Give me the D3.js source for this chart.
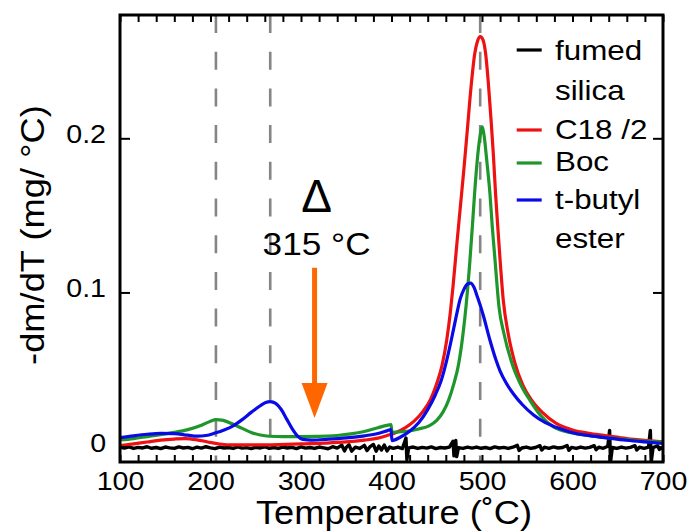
<!DOCTYPE html>
<html>
<head>
<meta charset="utf-8">
<script src="https://cdn.jsdelivr.net/npm/d3@7/dist/d3.min.js"></script>
<style>
  html, body { margin: 0; padding: 0; background: #fff; }
  svg { display: block; font-family: "Liberation Sans", Arial, Helvetica, sans-serif; }
</style>
</head>
<body>
<svg id="chart" width="691" height="531"></svg>
<script>
// Derivative thermogravimetry (-dm/dT) of functionalised silica, [temperature °C, mg/°C]
const silicaData = [
  [100,-0.0004],[105,-0.0010],[110,-0.0002],[115,-0.0012],[120,-0.0005],[125,-0.0009],[130,-0.0001],
  [135,-0.0011],[140,-0.0006],[145,-0.0013],[150,-0.0003],[155,-0.0008],[160,-0.0012],[165,-0.0002],
  [170,-0.0009],[175,-0.0005],[180,-0.0014],[185,-0.0004],[190,-0.0010],[195,-0.0001],[200,-0.0008],
  [205,-0.0013],[210,-0.0003],[215,-0.0009],[220,-0.0006],[225,-0.0012],[230,-0.0002],[235,-0.0010],
  [240,-0.0007],[245,-0.0013],[250,-0.0004],[255,-0.0009],[260,-0.0001],[265,-0.0011],[270,-0.0006],
  [275,-0.0012],[280,-0.0003],[285,-0.0009],[290,-0.0005],[295,-0.0013],[300,-0.0002],[305,-0.0010],
  [310,-0.0006],[315,-0.0012],[320,-0.0003],[325,-0.0008],[330,-0.0014],[335,-0.0001],[340,-0.0010],
  [345,0.0010],[348,-0.0028],[350,-0.0005],[353,0.0012],[356,-0.0030],[360,-0.0004],[365,-0.0012],
  [370,0.0008],[373,-0.0026],[376,-0.0002],[380,0.0014],[383,-0.0030],[386,0.0004],[389,-0.0022],
  [392,0.0010],[395,-0.0028],[398,-0.0003],[402,-0.0011],[407,-0.0004],[412,-0.0013],[416,0.0055],
  [417,-0.0085],[419,-0.0008],[424,-0.0003],[429,-0.0012],[434,-0.0005],[439,-0.0010],[444,-0.0002],
  [449,-0.0013],[454,-0.0006],[459,-0.0009],[464,-0.0003],[468,0.0035],[469,-0.0060],[471,0.0040],
  [472,-0.0065],[474,-0.0007],[479,-0.0012],[484,-0.0004],[489,-0.0010],[494,-0.0003],[499,-0.0011],
  [504,-0.0006],[509,-0.0013],[514,-0.0002],[519,-0.0009],[524,-0.0005],[529,-0.0012],[534,-0.0004],
  [539,0.0008],[541,-0.0025],[544,-0.0009],[549,-0.0003],[554,-0.0012],[559,-0.0006],[564,0.0006],
  [566,-0.0022],[569,-0.0004],[574,-0.0011],[579,-0.0002],[584,-0.0009],[589,-0.0006],[594,0.0007],
  [596,-0.0024],[599,-0.0005],[604,-0.0012],[609,-0.0003],[614,-0.0010],[619,-0.0005],[624,0.0006],
  [626,-0.0020],[629,-0.0004],[634,-0.0011],[639,0.0002],[641,0.0105],[642,-0.0100],[644,-0.0006],
  [649,-0.0012],[654,-0.0003],[659,-0.0010],[664,-0.0005],[669,0.0006],[671,-0.0022],[674,-0.0004],
  [679,-0.0011],[684,-0.0003],[686,0.0105],[687,-0.0100],[689,-0.0006],[694,0.0005],[696,-0.0018],
  [700,-0.0006]
];

const c18Data = [
  [100,0.0006],[115,0.0018],[130,0.0030],[145,0.0042],[160,0.0049],[172,0.0052],[185,0.0044],
  [197,0.0030],[210,0.0017],[225,0.0011],[250,0.0011],[275,0.0013],[300,0.0017],[325,0.0022],
  [350,0.0030],[370,0.0042],[385,0.0055],[395,0.0072],[405,0.0092],[415,0.0122],[425,0.0165],
  [435,0.0230],[443,0.0305],[450,0.0410],[456,0.0530],[461,0.0690],[465,0.0870],[468,0.1040],
  [472,0.1300],[476,0.1550],[480,0.1800],[484,0.2070],[488,0.2340],[492,0.2550],[495,0.2630],
  [498,0.2660],[501,0.2640],[504,0.2550],[507,0.2360],[510,0.2120],[512.5,0.1900],[515,0.1640],
  [517.5,0.1420],[520,0.1210],[523.5,0.0950],[529,0.0730],[536,0.0550],[545,0.0400],[555,0.0300],
  [567,0.0220],[582,0.0150],[600,0.0108],[620,0.0085],[640,0.0068],[660,0.0052],[680,0.0040],
  [700,0.0030]
];

const bocData = [
  [100,0.0043],[115,0.0052],[130,0.0065],[145,0.0078],[160,0.0092],[175,0.0110],[190,0.0138],
  [200,0.0165],[206,0.0175],[214,0.0170],[225,0.0145],[235,0.0118],[245,0.0092],[255,0.0075],
  [265,0.0067],[280,0.0065],[300,0.0065],[320,0.0066],[340,0.0072],[355,0.0082],[370,0.0098],
  [385,0.0122],[395,0.0138],[399.5,0.0142],[400.5,0.0093],[415,0.0098],[430,0.0114],[442,0.0136],
  [450,0.0170],[457,0.0225],[463,0.0300],[469,0.0410],[474,0.0530],[479,0.0730],[482.5,0.0920],
  [486.7,0.1210],[489.3,0.1424],[491.8,0.1640],[494.8,0.1860],[497.5,0.2000],[500.4,0.2075],
  [502.5,0.2010],[505.2,0.1860],[508.8,0.1640],[511.4,0.1424],[514.4,0.1210],[518.8,0.0905],
  [524.3,0.0732],[534.6,0.0515],[543,0.0400],[553,0.0300],[565,0.0200],[579,0.0128],[600,0.0088],
  [625,0.0066],[650,0.0050],[675,0.0038],[700,0.0030]
];

const tButylData = [
  [100,0.0058],[115,0.0070],[130,0.0080],[145,0.0086],[160,0.0084],[175,0.0074],[185,0.0068],
  [195,0.0072],[205,0.0088],[215,0.0108],[225,0.0135],[235,0.0175],[245,0.0222],[255,0.0265],
  [261,0.0286],[266,0.0292],[272,0.0280],[278,0.0242],[284,0.0180],[290,0.0118],[296,0.0070],
  [302,0.0047],[312,0.0042],[330,0.0048],[350,0.0057],[370,0.0070],[385,0.0085],[395,0.0102],
  [399.5,0.0110],[400.5,0.0039],[410,0.0062],[420,0.0100],[430,0.0155],[440,0.0240],[448,0.0330],
  [455,0.0430],[461,0.0560],[466,0.0690],[471,0.0830],[476,0.0960],[480,0.1020],[484,0.1055],
  [487.5,0.1060],[491,0.1035],[495,0.0970],[501,0.0860],[508.8,0.0690],[515,0.0570],[520,0.0490],
  [527,0.0410],[535,0.0340],[545,0.0270],[557,0.0205],[570,0.0155],[582,0.0125],[600,0.0090],
  [619,0.0071],[640,0.0055],[660,0.0041],[680,0.0030],[700,0.0020]
];

const seriesNames = ["fumed\nsilica", "C18 /2", "Boc", "t-butyl\nester"];
const seriesColors = ["#000000", "#ee1111", "#1e962c", "#0a0ae6"];
const seriesData = [silicaData, c18Data, bocData, tButylData];

const xTicksMajor = [100, 200, 300, 400, 500, 600, 700];
const xTicksMinor = d3.range(100, 701, 20);
const yTicks = [0, 0.1, 0.2];
const yTickLabels = ["0", "0.1", "0.2"];

// characteristic decomposition temperatures marked with dashed guides
const guideTemps = [206, 266, 498];
// heating step annotation
const stepTemp = 315;
const stepLabel = "315 \u00B0C";
const arrowFrom = 0.116, arrowTo = 0.0185;

// ---- layout
const svg = d3.select("#chart");
const plotL = 120, plotR = 663, plotT = 15, plotB = 462;
const x = d3.scaleLinear().domain([100, 700]).range([plotL, plotR]);
const y = d3.scaleLinear().domain([-0.01, 0.28]).range([plotB, plotT]);
const font = '"Liberation Sans", Arial, Helvetica, sans-serif';

svg.append("defs").append("clipPath").attr("id", "plotClip")
  .append("rect").attr("x", plotL).attr("y", plotT)
  .attr("width", plotR - plotL).attr("height", plotB - plotT);

// dashed guides
svg.append("g").selectAll("line").data(guideTemps).join("line")
  .attr("x1", d => x(d)).attr("x2", d => x(d))
  .attr("y1", plotT).attr("y2", plotB)
  .attr("stroke", "#858585").attr("stroke-width", 2.6)
  .attr("stroke-dasharray", "18,18.7");

// curves
const plot = svg.append("g").attr("clip-path", "url(#plotClip)");
seriesData.forEach((data, i) => {
  const line = d3.line()
    .x(d => x(d[0])).y(d => y(d[1]))
    .curve(i === 0 ? d3.curveLinear : d3.curveMonotoneX);
  plot.append("path").datum(data)
    .attr("fill", "none")
    .attr("stroke", seriesColors[i])
    .attr("stroke-width", i === 0 ? 3.4 : 3.2)
    .attr("stroke-linejoin", "round")
    .attr("d", line);
});

// axes with inward ticks
function styleAxis(g) {
  g.select(".domain").remove();
  g.selectAll(".tick line").attr("stroke", "#000").attr("stroke-width", 2);
}
svg.append("g").attr("transform", `translate(0,${plotB})`)
  .call(d3.axisBottom(x).tickValues(xTicksMinor).tickSize(-7).tickPadding(9.5)
    .tickFormat(d => xTicksMajor.includes(d) ? String(d) : ""))
  .call(styleAxis)
  .call(g => g.selectAll(".tick text")
    .attr("font-family", font).attr("font-size", 26).attr("fill", "#000")
    .attr("transform", "scale(1.1,1)"));
svg.append("g").attr("transform", `translate(0,${plotT})`)
  .call(d3.axisTop(x).tickValues(xTicksMinor).tickSize(-7).tickFormat(""))
  .call(styleAxis);
svg.append("g").attr("transform", `translate(${plotL},0)`)
  .call(d3.axisLeft(y).tickValues(yTicks).tickSize(-10).tickPadding(12.7)
    .tickFormat((d, i) => yTickLabels[i]))
  .call(styleAxis)
  .call(g => g.selectAll(".tick text")
    .attr("font-family", font).attr("font-size", 26).attr("fill", "#000")
    .attr("dy", "0.17em").attr("transform", "scale(1.1,1)"));
svg.append("g").attr("transform", `translate(${plotR},0)`)
  .call(d3.axisRight(y).tickValues(yTicks).tickSize(-10).tickFormat(""))
  .call(styleAxis);

// frame
svg.append("rect").attr("x", plotL).attr("y", plotT)
  .attr("width", plotR - plotL).attr("height", plotB - plotT)
  .attr("fill", "none").attr("stroke", "#000").attr("stroke-width", 3);

// axis titles
svg.append("text").attr("transform", "translate(394,524) scale(1.1,1)")
  .attr("text-anchor", "middle").attr("font-family", font).attr("font-size", 33)
  .text("Temperature (\u02DAC)");
svg.append("text").attr("transform", "translate(44,235) rotate(-90) scale(1.1,1)")
  .attr("text-anchor", "middle").attr("font-family", font).attr("font-size", 33)
  .text("-dm/dT (mg/ \u00B0C)");

// heating step annotation
const ax = x(stepTemp);
svg.append("text").attr("x", ax + 2).attr("y", 212)
  .attr("text-anchor", "middle").attr("font-family", font).attr("font-size", 46)
  .text("\u0394");
svg.append("text").attr("transform", `translate(${ax + 2},255) scale(1.1,1)`)
  .attr("text-anchor", "middle").attr("font-family", font).attr("font-size", 32)
  .text(stepLabel);
const tipY = y(arrowTo), headLen = 35, headHalf = 13;
svg.append("line").attr("x1", ax).attr("x2", ax)
  .attr("y1", y(arrowFrom)).attr("y2", tipY - headLen + 2)
  .attr("stroke", "#ff6600").attr("stroke-width", 5);
svg.append("path")
  .attr("d", `M${ax - headHalf},${tipY - headLen}L${ax + headHalf},${tipY - headLen}L${ax},${tipY}Z`)
  .attr("fill", "#ff6600");

// legend
const legendLineY = [50, 130, 163, 200];
const legendTextY = [[60, 100], [139], [171], [209, 248]];
const legend = svg.append("g");
seriesNames.forEach((name, i) => {
  legend.append("line").attr("x1", 516.7).attr("x2", 541.7)
    .attr("y1", legendLineY[i]).attr("y2", legendLineY[i])
    .attr("stroke", seriesColors[i]).attr("stroke-width", 3.2);
  name.split("\n").forEach((part, j) => {
    legend.append("text")
      .attr("transform", `translate(555,${legendTextY[i][j]}) scale(1.1,1)`)
      .attr("font-family", font).attr("font-size", 28.5)
      .text(part);
  });
});
</script>
</body>
</html>
